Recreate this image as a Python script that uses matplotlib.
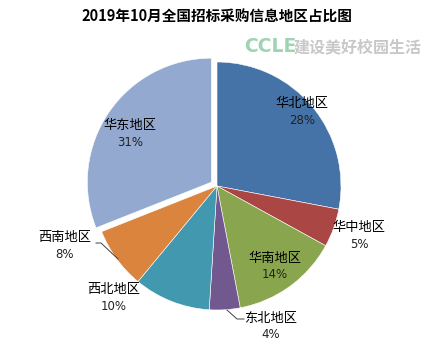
import matplotlib
matplotlib.use("Agg")
import matplotlib.pyplot as plt

plt.rcParams['font.family'] = ['Noto Sans CJK SC', 'DejaVu Sans']

title = "2019年10月全国招标采购信息地区占比图"
regions = ["华北地区", "华中地区", "华南地区", "东北地区", "西北地区", "西南地区", "华东地区"]
shares = [28, 5, 14, 4, 10, 8, 31]
colors = ["#4572A7", "#AA4643", "#89A54E", "#71588F", "#4198AF", "#DB843D", "#93A9CF"]
explode_frac = [0, 0, 0, 0, 0, 0, 0.055]

W, H = 434, 344
fig = plt.figure(figsize=(W / 100, H / 100), dpi=100)
ax = fig.add_axes([0, 0, 1, 1])

cx, cy, r = 217, H - 186, 124
ax.pie(shares, colors=colors, explode=[e * r for e in explode_frac],
       startangle=90, counterclock=False,
       center=(cx, cy), radius=r, frame=True,
       wedgeprops=dict(edgecolor="white", linewidth=0.4))
ax.set_xlim(0, W)
ax.set_ylim(0, H)
ax.set_aspect("equal")
ax.axis("off")

# label anchor positions in pixel space (x, y from top)
label_pos = [(302, 103), (359, 228), (275, 258), (271, 318), (114, 290), (65, 237), (130, 125)]
for name, val, (lx, ly) in zip(regions, shares, label_pos):
    ax.text(lx, H - ly, name, ha="center", va="center", fontsize=9.5, color="black")
    ax.text(lx, H - ly - 17, f"{val}%", ha="center", va="center", fontsize=8.5,
            color="#222222", family="DejaVu Sans")

# leader lines for the two small outside labels
ax.plot([227, 237, 244], [H - 310, H - 319, H - 319], color="#404040", lw=0.7)
ax.plot([96, 101, 118], [H - 243, H - 243, H - 259], color="#404040", lw=0.7)

ax.text(217, H - 17, title, ha="center", va="center", fontsize=10.5,
        fontweight="bold", color="black")

# site mark
ax.text(244, H - 47, "CCLE", ha="left", va="center", fontsize=13.5, fontweight="bold",
        color="#9ED3B4", family="DejaVu Sans")
ax.text(294, H - 47, "建设美好校园生活", ha="left", va="center", fontsize=11.5,
        fontweight="bold", color="#C8C8C8")

fig.savefig("out.png", dpi=100)
